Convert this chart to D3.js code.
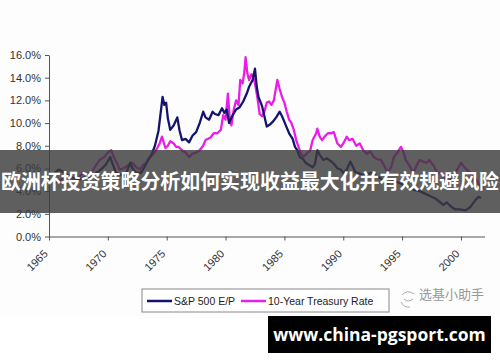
<!DOCTYPE html>
<html>
<head>
<meta charset="utf-8">
<script src="https://cdn.jsdelivr.net/npm/d3@7"></script>
<style>
  body { margin: 0; background: #fff; }
  .axis text { font-family: Arial, "Liberation Sans", sans-serif; font-size: 11px; fill: #333; }
  .axis path, .axis line { stroke: #555; }
</style>
</head>
<body>
<div id="chart"></div>
<script>
// S&P 500 earnings/price yield (navy)
const spYears = [1965.5, 1965.8, 1966.2, 1966.6, 1967.0, 1967.4, 1967.8, 1968.2, 1968.6, 1969.0, 1969.4, 1969.8,
  1970.2, 1970.4, 1970.7, 1971.0, 1971.3, 1971.6, 1971.9, 1972.1, 1972.4, 1972.8, 1973.1, 1973.4, 1973.7,
  1974.0, 1974.3, 1974.5, 1974.65, 1974.8, 1974.95, 1975.1, 1975.3, 1975.6, 1975.9, 1976.1, 1976.3, 1976.6,
  1976.9, 1977.2, 1977.5, 1977.8, 1978.1, 1978.3, 1978.6, 1978.9, 1979.1, 1979.4, 1979.7, 1979.9, 1980.1,
  1980.3, 1980.6, 1980.9, 1981.2, 1981.5, 1981.8, 1982.0, 1982.3, 1982.5, 1982.65, 1982.8, 1983.1, 1983.3,
  1983.5, 1983.8, 1984.0, 1984.3, 1984.6, 1984.8, 1985.0, 1985.2, 1985.4, 1985.7, 1985.9, 1986.1, 1986.3,
  1986.6, 1986.8, 1987.1, 1987.4, 1987.6, 1987.8, 1988.0, 1988.3, 1988.6, 1989.0, 1989.3, 1989.5, 1989.8,
  1990.0, 1990.3, 1990.6, 1990.8, 1991.0, 1991.3, 1991.7, 1992.0, 1992.5, 1992.9, 1993.2, 1993.7, 1994.2,
  1994.6, 1995.2, 1995.7, 1996.0, 1996.5, 1996.9, 1997.5, 1997.9, 1998.5, 1998.8, 1999.2, 1999.5, 1999.9,
  2000.4, 2000.8, 2001.0, 2001.3, 2001.5, 2001.7];
const spEP = [5.6, 5.9, 5.7, 5.4, 5.2, 5.0, 5.1, 5.3, 5.2, 5.6, 5.9, 6.3,
  7.0, 6.4, 5.6, 5.5, 5.3, 5.7, 6.5, 6.0, 5.6, 5.6, 6.1, 6.75, 7.2,
  8.0, 9.3, 11.0, 12.3, 11.6, 11.8, 10.4, 9.4, 9.8, 10.5, 9.3, 8.5, 8.6,
  8.3, 8.9, 9.2, 10.0, 11.0, 10.5, 10.3, 11.0, 10.8, 10.7, 11.3, 10.9, 11.2,
  10.0, 10.7, 11.2, 11.4, 11.9, 12.6, 13.2, 13.8, 14.8, 13.2, 12.3, 11.5, 10.6,
  9.7, 9.9, 10.1, 10.5, 11.0, 10.6, 10.1, 9.6, 9.1, 8.6, 7.9, 7.6, 7.0,
  6.8, 6.5, 6.3, 6.1, 6.4, 7.6, 7.2, 6.75, 6.9, 6.6, 6.3, 6.0, 5.9,
  5.6, 5.9, 6.6, 6.2, 5.7, 5.6, 5.4, 5.5, 5.6, 5.3, 5.1, 4.7, 4.9,
  4.8, 4.5, 4.3, 4.1, 4.0, 3.8, 3.5, 3.3, 2.8, 3.0, 2.6, 2.4, 2.4,
  2.3, 2.6, 2.9, 3.3, 3.5, 3.4];

// 10-year treasury rate (magenta)
const tnYears = [1965.4, 1965.8, 1966.2, 1966.6, 1967.0, 1967.5, 1967.9, 1968.3, 1968.6, 1969.0, 1969.3, 1969.7,
  1970.0, 1970.3, 1970.5, 1970.8, 1971.0, 1971.3, 1971.6, 1971.9, 1972.1, 1972.4, 1972.7, 1973.0, 1973.3,
  1973.6, 1973.9, 1974.2, 1974.4, 1974.6, 1974.8, 1974.9, 1975.1, 1975.3, 1975.6, 1975.8, 1976.0, 1976.3,
  1976.6, 1976.9, 1977.2, 1977.5, 1977.8, 1978.1, 1978.3, 1978.7, 1979.0, 1979.3, 1979.6, 1979.8, 1980.0,
  1980.2, 1980.35, 1980.5, 1980.7, 1980.9, 1981.1, 1981.25, 1981.45, 1981.6, 1981.7, 1981.85, 1982.0, 1982.2,
  1982.4, 1982.5, 1982.7, 1982.9, 1983.1, 1983.3, 1983.5, 1983.7, 1983.9, 1984.1, 1984.4, 1984.6, 1984.8,
  1985.0, 1985.2, 1985.4, 1985.6, 1985.8, 1986.0, 1986.2, 1986.4, 1986.6, 1986.9, 1987.2, 1987.4, 1987.7,
  1987.8, 1988.0, 1988.2, 1988.5, 1988.7, 1989.0, 1989.2, 1989.5, 1989.8, 1990.0, 1990.3, 1990.5, 1990.8,
  1991.1, 1991.4, 1991.7, 1992.0, 1992.3, 1992.6, 1992.9, 1993.2, 1993.5, 1993.8, 1994.1, 1994.3, 1994.6,
  1994.9, 1995.1, 1995.3, 1995.6, 1995.8, 1996.0, 1996.3, 1996.5, 1996.8, 1997.1, 1997.3, 1997.7, 1998.0,
  1998.3, 1998.7, 1998.9, 1999.1, 1999.4, 1999.7, 2000.0, 2000.3, 2000.5, 2000.8, 2001.0, 2001.2, 2001.4,
  2001.6, 2001.8, 2001.9];
const tnRate = [4.7, 4.9, 5.1, 5.3, 5.0, 5.2, 5.6, 5.5, 5.6, 6.3, 6.75, 7.0,
  7.4, 7.6, 7.0, 6.4, 5.9, 6.0, 6.2, 6.4, 6.5, 6.1, 5.9, 6.3, 6.5,
  7.0, 7.3, 7.8, 8.2, 8.8, 8.1, 7.8, 8.0, 8.4, 8.2, 7.9, 7.9, 7.6,
  7.4, 7.0, 7.3, 7.4, 7.6, 8.0, 8.5, 8.7, 9.1, 9.1, 9.4, 10.7, 10.3,
  12.6, 10.5, 9.8, 11.2, 12.0, 11.6, 13.8, 13.5, 14.5, 15.8, 14.4, 13.8, 14.3,
  13.9, 13.5, 12.3, 10.8, 10.6, 11.0, 11.8, 11.9, 11.6, 12.0, 13.8, 13.0, 12.3,
  11.8, 11.0, 10.3, 10.0, 9.4, 8.5, 7.9, 7.3, 7.0, 7.3, 7.6, 8.5, 9.1,
  9.5, 8.8, 8.5, 8.9, 9.1, 9.1, 9.2, 8.2, 7.9, 8.2, 8.8, 8.5, 8.6,
  8.0, 8.2, 7.6, 7.3, 7.5, 7.0, 6.8, 6.75, 6.2, 5.6, 6.2, 7.0, 7.4,
  7.9, 7.5, 6.75, 6.3, 5.9, 5.7, 6.4, 6.75, 6.6, 6.5, 6.75, 6.2, 5.6,
  5.6, 5.0, 4.6, 5.0, 5.5, 5.9, 6.5, 6.1, 5.9, 5.6, 5.0, 5.1, 4.9,
  4.4, 4.1, 4.4];

const yTicks = [0, 2, 4, 6, 8, 10, 12, 14, 16];
const xTicks = [1965, 1970, 1975, 1980, 1985, 1990, 1995, 2000];
const seriesNames = ["S&P 500 E/P", "10-Year Treasury Rate"];
const seriesColors = ["#14146e", "#e81ee8"];
const bannerText = "欧洲杯投资策略分析如何实现收益最大化并有效规避风险";
const watermark = "选基小助手";
const siteText = "www.china-pgsport.com";

const W = 500, H = 362;
const plot = {left: 49, right: 484.5, top: 55, bottom: 236.5};

const svg = d3.select("#chart").append("svg")
  .attr("width", W)
  .attr("height", H);

svg.append("rect").attr("width", W).attr("height", 316).attr("fill", "#fdfdfd");

const x = d3.scaleLinear().domain([1965, 2002]).range([plot.left, plot.right]);
const y = d3.scaleLinear().domain([0, 16]).range([plot.bottom, plot.top]);

// y axis
const yAxis = svg.append("g")
  .attr("class", "axis")
  .attr("transform", "translate(" + plot.left + ",0)")
  .call(d3.axisLeft(y).tickValues(yTicks).tickSize(4).tickSizeOuter(0)
    .tickFormat(d => d.toFixed(1) + "%"));
yAxis.selectAll("text").attr("x", -8);

// x axis
const xAxis = svg.append("g")
  .attr("class", "axis")
  .attr("transform", "translate(0," + plot.bottom + ")")
  .call(d3.axisBottom(x).tickValues(xTicks).tickSize(4).tickSizeOuter(0).tickFormat(d3.format("d")));
xAxis.selectAll("text")
  .attr("text-anchor", "end")
  .attr("dy", null)
  .attr("y", 0)
  .attr("transform", "translate(-1,18) rotate(-45)");

const line = d3.line()
  .x(d => x(d[0]))
  .y(d => y(d[1]));

const spData = spYears.map((yr, i) => [yr, spEP[i]]);
const tnData = tnYears.map((yr, i) => [yr, tnRate[i]]);

svg.append("path")
  .datum(tnData)
  .attr("fill", "none")
  .attr("stroke", seriesColors[1])
  .attr("stroke-width", 2.3)
  .attr("stroke-linejoin", "round")
  .attr("d", line);

svg.append("path")
  .datum(spData)
  .attr("fill", "none")
  .attr("stroke", seriesColors[0])
  .attr("stroke-width", 2.3)
  .attr("stroke-linejoin", "round")
  .attr("d", line);

// legend
const legend = svg.append("g").attr("transform", "translate(142,289)");
legend.append("rect")
  .attr("width", 247).attr("height", 23)
  .attr("fill", "#fff").attr("stroke", "#888");
const legendX = [5, 99];
const legendW = [25, 25];
seriesNames.forEach((name, i) => {
  legend.append("line")
    .attr("x1", legendX[i]).attr("x2", legendX[i] + legendW[i])
    .attr("y1", 12).attr("y2", 12)
    .attr("stroke", seriesColors[i]).attr("stroke-width", 2.5);
  legend.append("text")
    .attr("x", legendX[i] + legendW[i] + 2).attr("y", 15.5)
    .attr("font-family", "Arial, 'Liberation Sans', sans-serif")
    .attr("font-size", 10.5).attr("fill", "#222")
    .text(name);
});

// watermark
const wm = svg.append("g").attr("transform", "translate(400,293)");
wm.append("path")
  .attr("d", "M2,2 q5,-6 12,-1 M4,6 q4,4 9,0 M1,9 q3,6 9,5")
  .attr("fill", "none").attr("stroke", "#aaa").attr("stroke-width", 1);
wm.append("text")
  .attr("x", 19).attr("y", 6)
  .attr("font-family", "'Noto Sans CJK SC', sans-serif")
  .attr("font-size", 13).attr("fill", "#999")
  .text(watermark);

// overlay banner
svg.append("rect")
  .attr("x", 0).attr("y", 150).attr("width", W).attr("height", 63)
  .attr("fill", "#3c3c3c").attr("fill-opacity", 0.82);
svg.append("text")
  .attr("x", W / 2).attr("y", 189)
  .attr("text-anchor", "middle")
  .attr("font-family", "'Noto Sans CJK SC', sans-serif")
  .attr("font-weight", "bold")
  .attr("font-size", 20).attr("fill", "#fff")
  .attr("textLength", 498).attr("lengthAdjust", "spacingAndGlyphs")
  .text(bannerText);

// site box
svg.append("rect")
  .attr("x", 268).attr("y", 316).attr("width", 223).attr("height", 37)
  .attr("fill", "#000");
svg.append("text")
  .attr("x", 379.5).attr("y", 340.5)
  .attr("text-anchor", "middle")
  .attr("font-family", "'Open Sans', sans-serif")
  .attr("font-weight", "bold")
  .attr("font-size", 17.5).attr("fill", "#fff")
  .text(siteText);
</script>
</body>
</html>
